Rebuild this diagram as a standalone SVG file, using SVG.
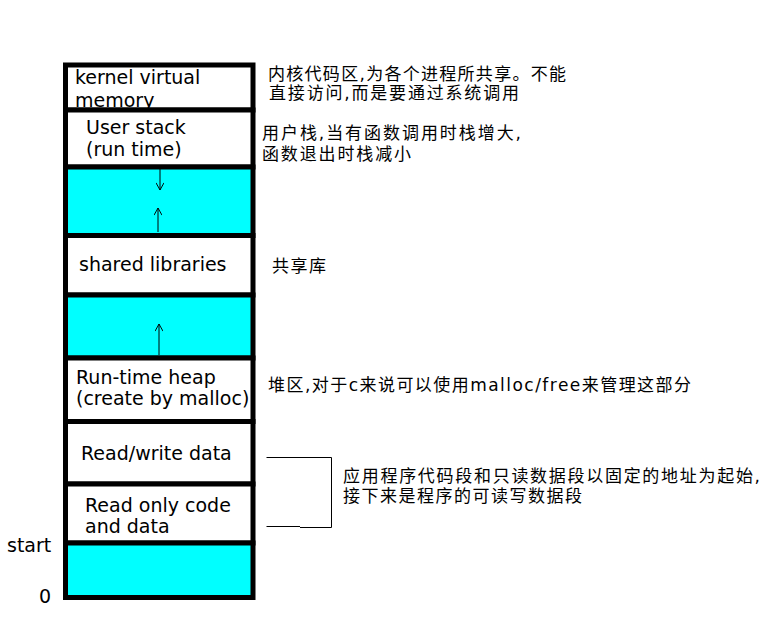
<svg xmlns="http://www.w3.org/2000/svg" width="776" height="618" viewBox="0 0 776 618">
<defs>
<style>
.box{stroke:#000;stroke-width:5}
.w{fill:#fff}
.c{fill:#00ffff}
.t{font-family:"DejaVu Sans","Noto Sans CJK SC",sans-serif;font-size:19px;fill:#000}
.z{font-family:"DejaVu Sans","Noto Sans CJK SC",sans-serif;font-size:17px;fill:#000}
.ln{stroke:#000;stroke-width:1;fill:none}
</style>
<marker id="ah" viewBox="0 0 10 10" refX="10" refY="5" markerWidth="8" markerHeight="8" markerUnits="userSpaceOnUse" orient="auto">
<path d="M1,0 L10,5 L1,10" fill="none" stroke="#000" stroke-width="1.2"/>
</marker>
</defs>
<rect width="776" height="618" fill="#fff"/>
<g id="kernel"><rect class="box w" x="65.5" y="65" width="187.5" height="45"/><text class="t" x="75" y="84">kernel virtual</text><text class="t" x="75" y="107">memory</text></g>
<g id="userstack"><rect class="box w" x="65.5" y="110" width="187.5" height="57"/><text class="t" x="86" y="133.5">User stack</text><text class="t" x="86" y="155.5">(run time)</text></g>
<g id="gap1"><rect class="box c" x="65.5" y="167" width="187.5" height="68.5"/></g>
<g id="shared"><rect class="box w" x="65.5" y="235.5" width="187.5" height="59.5"/><text class="t" x="79" y="270.5">shared libraries</text></g>
<g id="gap2"><rect class="box c" x="65.5" y="295" width="187.5" height="63"/></g>
<g id="heap"><rect class="box w" x="65.5" y="358" width="187.5" height="63.5"/><text class="t" x="76" y="383.5">Run-time heap</text><text class="t" x="76" y="405">(create by malloc)</text></g>
<g id="rwdata"><rect class="box w" x="65.5" y="421.5" width="187.5" height="62.5"/><text class="t" x="81" y="460">Read/write data</text></g>
<g id="rodata"><rect class="box w" x="65.5" y="484" width="187.5" height="59"/><text class="t" x="85" y="511.5">Read only code</text><text class="t" x="85" y="533">and data</text></g>
<g id="bottom"><rect class="box c" x="65.5" y="543" width="187.5" height="54.5"/></g>
<g id="connectors">
<line class="ln" x1="160" y1="169" x2="160" y2="190" marker-end="url(#ah)"/>
<line class="ln" x1="158" y1="232" x2="158" y2="208" marker-end="url(#ah)"/>
<line class="ln" x1="159" y1="355" x2="159" y2="324" marker-end="url(#ah)"/>
<path class="ln" d="M266.5,457.5 H331.5 V527.5 H300 M300,526.5 H266.5"/>
</g>
<g id="labels">
<text class="t" x="7" y="552">start</text>
<text class="t" x="39" y="603">0</text>
<text class="z" x="268" y="80" textLength="298">内核代码区,为各个进程所共享。不能</text>
<text class="z" x="269" y="99" textLength="250">直接访问,而是要通过系统调用</text>
<text class="z" x="262" y="139" textLength="259">用户栈,当有函数调用时栈增大,</text>
<text class="z" x="262" y="160" textLength="149">函数退出时栈减小</text>
<text class="z" x="272" y="272" textLength="54">共享库</text>
<text class="z" x="268" y="391" textLength="423">堆区,对于c来说可以使用malloc/free来管理这部分</text>
<text class="z" x="343" y="482" textLength="417">应用程序代码段和只读数据段以固定的地址为起始,</text>
<text class="z" x="343" y="502" textLength="239">接下来是程序的可读写数据段</text>
</g>
</svg>
